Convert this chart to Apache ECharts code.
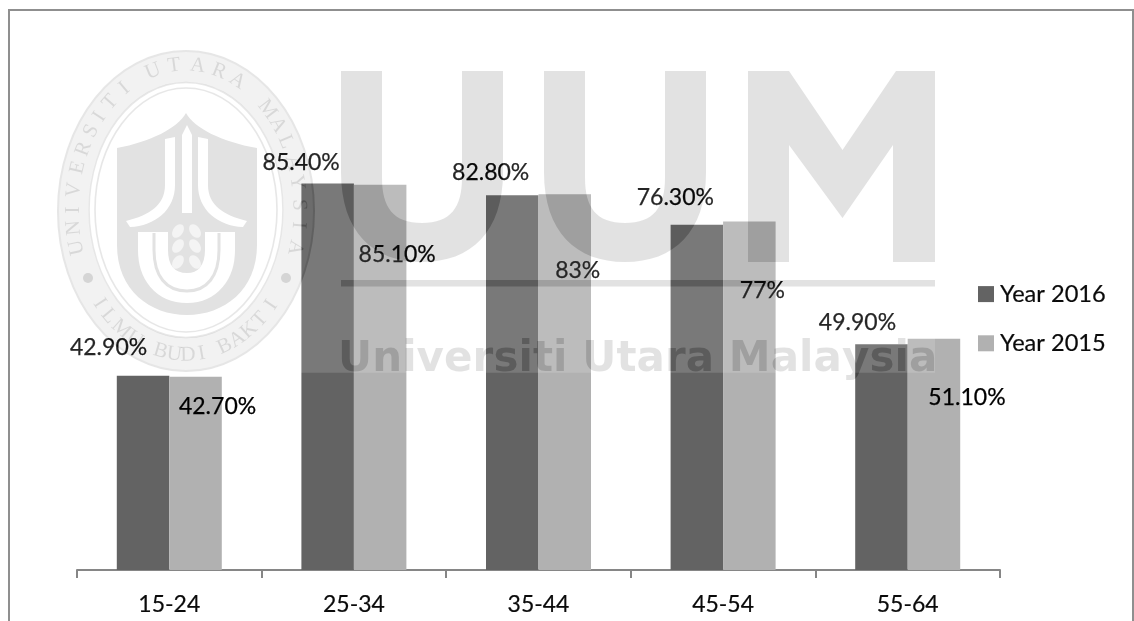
<!DOCTYPE html>
<html>
<head>
<meta charset="utf-8">
<style>html,body{margin:0;padding:0;background:#fff}#chart{width:1134px;height:621px}</style>
<script src="https://cdn.jsdelivr.net/npm/echarts@6/dist/echarts.min.js"></script>
</head>
<body>
<div id="chart"></div>
<script>
// Labour-force participation by age band
const ageBands = ['15-24', '25-34', '35-44', '45-54', '55-64'];
const year2016 = [42.9, 85.4, 82.8, 76.3, 49.9];
const year2015 = [42.7, 85.1, 83, 77, 51.1];
const labels2016 = ['42.90%', '85.40%', '82.80%', '76.30%', '49.90%'];
const labels2015 = ['42.70%', '85.10%', '83%', '77%', '51.10%'];

// Hand-placed data labels, shifted from the top of each bar
const offsets2016 = [[-34.5, -16.5], [-26.5, -9], [-21.6, -11], [-21.5, -15.5], [-24, -10]];
const offsets2015 = [[22, 41], [17, 81], [13, 88], [13, 80.5], [33, 70.5]];

const INK = '#0a0a0a';
const FONT = 'Lato, "Open Sans", sans-serif';
const LABEL_SIZE = 23;

// University watermark, laid over the finished plot
const SUB = 'rgb(29,29,29)';      // subtracted from whatever lies below
const SUB_SERIF = 'rgb(26,26,26)';
const PALE = '#e2e2e2';
const Z = 20;
const shapes = [];
function add(el) { el.z = Z; el.silent = true; shapes.push(el); }

// Registers an SVG outline as a graphic type and returns its name
let outlineCount = 0;
function outline(d) {
  const name = 'crestOutline' + (outlineCount++);
  echarts.graphic.registerShape(name, echarts.graphic.extendPath(d));
  return name;
}
const addPath = (d, style) => add({ type: outline(d), shape: {}, style });

add({ type: 'rect', shape: { x: 57, y: 50, width: 878, height: 322.7 },
      style: { fill: 'rgba(255,255,255,0.145)' } });

// Large UUM letterforms
const uPath = x => `M${x},71 H${x + 41} V178 C${x + 41},207 ${x + 52},223 ${x + 81},223 ` +
                   `C${x + 110},223 ${x + 121},207 ${x + 121},178 V71 H${x + 162} V172 ` +
                   `C${x + 162},232 ${x + 130},262 ${x + 81},262 C${x + 32},262 ${x},232 ${x},172 Z`;
const mPath = 'M748,71 H789 L842.5,150 L896,71 H935 V262 H893 V145 L842.5,218 L789,145 V262 H748 Z';
[uPath(341), uPath(544), mPath].forEach(d => addPath(d, { fill: SUB, blend: 'difference' }));
add({ type: 'rect', shape: { x: 341, y: 280, width: 594, height: 6.6 }, style: { fill: SUB, blend: 'difference' } });

// Name line, spaced out letter by letter
const nameText = 'Universiti Utara Malaysia';
const nameFamily = '"DejaVu Sans", sans-serif';
const nameSize = 42;
const meter = document.createElement('canvas').getContext('2d');
meter.font = `bold ${nameSize}px ${nameFamily}`;
const nameGap = (598 - meter.measureText(nameText).width) / (nameText.length - 1);
let penX = 338;
for (const ch of nameText) {
  if (ch !== ' ') {
    add({ type: 'text', x: penX, y: 339, style: {
      text: ch, fontSize: nameSize, fontWeight: 'bold', fontFamily: nameFamily,
      align: 'left', verticalAlign: 'alphabetic', fill: SUB } });
  }
  penX += meter.measureText(ch).width + nameGap;
}

// Crest: outer band and double inner ring
const cx = 186, cy = 210;
const ellipseD = (x, y, rx, ry, sweep) =>
  `M${x - rx},${y} A${rx},${ry} 0 1 ${sweep} ${x + rx},${y} A${rx},${ry} 0 1 ${sweep} ${x - rx},${y} Z`;
addPath(ellipseD(cx, 211, 129, 161, 1) + ellipseD(cx, cy, 98, 128, 0), { fill: 'rgb(13,13,13)', blend: 'difference' });
add({ type: 'ellipse', shape: { cx, cy: 211, rx: 128, ry: 160 },
      style: { fill: 'none', stroke: 'rgb(12,12,12)', lineWidth: 2, blend: 'difference' } });
add({ type: 'ellipse', shape: { cx, cy, rx: 97, ry: 127.5 },
      style: { fill: 'none', stroke: 'rgb(24,24,24)', lineWidth: 1.6, blend: 'difference' } });
add({ type: 'ellipse', shape: { cx, cy, rx: 91, ry: 122 },
      style: { fill: 'none', stroke: 'rgb(24,24,24)', lineWidth: 1.6, blend: 'difference' } });

// Lettering around the band: [letter, angle from the vertical in degrees]
const topLetters = [['U',-105],['N',-97],['I',-90],['V',-82],['E',-73],['R',-65],['S',-57],['I',-50],['T',-42],['I',-33],
  ['U',-17],['T',-6],['A',6],['R',17],['A',27],
  ['M',46],['A',54],['L',62],['A',71],['Y',79],['S',88],['I',96],['A',105]];
const bottomLetters = [['I',-50],['L',-43],['M',-35],['U',-27],['B',-13],['U',-6],['D',1],['I',8],
  ['B',20],['A',27],['K',34],['T',41],['I',49]];
const bandRx = 113, bandRy = 145;
const bandLetter = (ch, x, y, angle) => add({
  type: 'text', x, y, rotation: -angle,
  style: { text: ch, fontSize: 21, fontFamily: '"Liberation Serif", serif', align: 'center',
           verticalAlign: 'middle', fill: SUB_SERIF } });
topLetters.forEach(([ch, deg]) => {
  const t = deg * Math.PI / 180;
  bandLetter(ch, cx + bandRx * Math.sin(t), cy - bandRy * Math.cos(t),
             Math.atan2(bandRy * Math.sin(t), bandRx * Math.cos(t)));
});
bottomLetters.forEach(([ch, deg]) => {
  const t = deg * Math.PI / 180;
  bandLetter(ch, cx + bandRx * Math.sin(t), cy + bandRy * Math.cos(t),
             Math.atan2(-bandRy * Math.sin(t), bandRx * Math.cos(t)));
});
[88, 286].forEach(x => add({ type: 'circle', shape: { cx: x, cy: 278, r: 5 }, style: { fill: SUB, blend: 'difference' } }));

// Shield with its pale emblem
addPath('M186,113 C178,128 150,142 117,148 L117,245 C117,290 150,315 187,315 C224,315 257,290 257,245 L257,148 C222,142 194,128 186,113 Z', { fill: PALE });
addPath('M187,125 L192,135 V213 H182 V135 Z', { fill: '#fff' });
addPath('M165,139 L175,137 V185 C175,210 155,226 130,227 L126,221 C150,215 165,205 165,185 Z', { fill: '#fff' });
addPath('M208,139 L198,137 V185 C198,210 218,226 243,227 L247,221 C223,215 208,205 208,185 Z', { fill: '#fff' });
addPath('M153,232 V250 C153,272 165,288 187,288 C208,288 220,272 220,250 V232', { fill: 'none', stroke: '#fff', lineWidth: 30 });
addPath('M154,233 V250 C154,276 166,291 187,291 C207,291 219,276 219,250 V233', { fill: 'none', stroke: PALE, lineWidth: 3 });
// Ear of paddy at the centre of the cup
[[178, 231, -0.6], [195, 231, 0.6], [178, 246, -0.6], [195, 246, 0.6], [178, 262, -0.6], [195, 262, 0.6]].forEach(([x, y, r]) =>
  add({ type: 'ellipse', x, y, rotation: r, shape: { cx: 0, cy: 0, rx: 5, ry: 7.5 }, style: { fill: '#f4f4f4' } }));

const barSeries = (name, values, labels, offsets, color) => ({
  name, type: 'bar', barWidth: 52.5, barGap: 0, itemStyle: { color },
  data: values.map((value, i) => ({
    value,
    label: { show: true, position: 'top', distance: 0, offset: offsets[i], formatter: labels[i],
             fontSize: LABEL_SIZE, fontFamily: FONT, color: '#000', textBorderColor: '#000', textBorderWidth: 0.25 }
  }))
});

const chart = echarts.init(document.getElementById('chart'), null, { renderer: 'canvas' });
chart.setOption({
  animation: false,
  backgroundColor: '#fff',
  grid: { left: 77, top: 117.4, width: 923, height: 452.6 },
  xAxis: {
    type: 'category', data: ageBands,
    axisLine: { lineStyle: { color: '#868686', width: 2 } },
    axisTick: { show: true, alignWithLabel: false, length: 8, lineStyle: { color: '#868686', width: 2 } },
    axisLabel: { fontSize: LABEL_SIZE, fontFamily: FONT, color: INK, margin: 23, textBorderColor: INK, textBorderWidth: 0.2 }
  },
  yAxis: { type: 'value', min: 0, max: 100, show: false, splitLine: { show: false } },
  legend: {
    orient: 'vertical', left: 978, top: 282, itemWidth: 16, itemHeight: 16, itemGap: 25,
    icon: 'rect', padding: 0,
    textStyle: { fontSize: 23.6, fontFamily: FONT, color: INK, padding: [0, 0, 0, 1], textBorderColor: INK, textBorderWidth: 0.2 },
    data: ['Year 2016', 'Year 2015']
  },
  series: [
    barSeries('Year 2016', year2016, labels2016, offsets2016, '#636363'),
    barSeries('Year 2015', year2015, labels2015, offsets2015, '#b1b1b1')
  ],
  graphic: {
    elements: [
      // Page frame, open along the bottom
      { type: 'polyline', silent: true, z: Z, shape: { points: [[9, 621], [9, 10], [1133, 10], [1133, 621]] },
        style: { fill: 'none', stroke: '#8f8f8f', lineWidth: 2 } },
      ...shapes
    ]
  }
});

// Rich text spans do not inherit blend from their parent, so set it on the drawn letters
const zr = chart.getZr();
zr.storage.getDisplayList(true).forEach(el => {
  if (el.style && el.style.text != null && (el.style.fill === SUB || el.style.fill === SUB_SERIF)) {
    el.style.blend = 'difference';
    el.markRedraw();
  }
});
zr.refreshImmediately();
</script>
</body>
</html>
